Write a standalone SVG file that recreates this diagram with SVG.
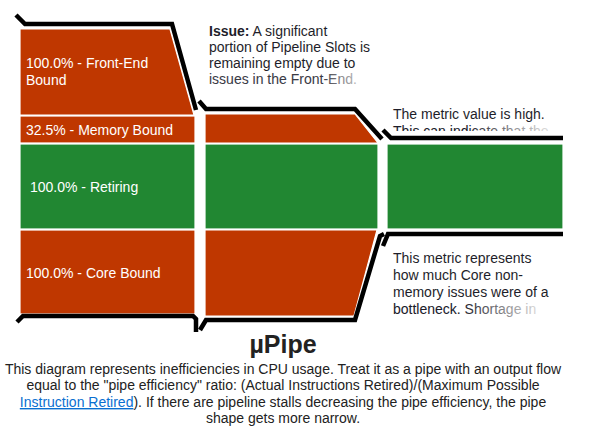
<svg xmlns="http://www.w3.org/2000/svg" width="596" height="442" viewBox="0 0 596 442">
<style>
.red{fill:#bf3700;stroke:#fff;stroke-width:1.2}
.grn{fill:#218732;stroke:#fff;stroke-width:1.2}
.lbl{font-family:"Liberation Sans",Arial,sans-serif;font-size:14px;fill:#fff}
.ann{font-family:"Liberation Sans",Arial,sans-serif;font-size:14px;fill:#1e1e2a}
.pipe{fill:none;stroke:#000;stroke-width:4.5;stroke-linejoin:miter}
.desc{font-family:"Liberation Sans",Arial,sans-serif;font-size:14px;fill:#222;text-anchor:middle}
</style>
<defs>
<linearGradient id="fade1" gradientUnits="userSpaceOnUse" x1="322" y1="0" x2="362" y2="0">
<stop offset="0" stop-color="#3a3a44"/><stop offset="1" stop-color="#cfcfcf"/>
</linearGradient>
<linearGradient id="fade2" gradientUnits="userSpaceOnUse" x1="465" y1="0" x2="545" y2="0">
<stop offset="0" stop-color="#1e1e2a"/><stop offset="1" stop-color="#d8d8d8"/>
</linearGradient>
<linearGradient id="fade3" gradientUnits="userSpaceOnUse" x1="462" y1="0" x2="537" y2="0">
<stop offset="0" stop-color="#1e1e2a"/><stop offset="1" stop-color="#d8d8d8"/>
</linearGradient>
<clipPath id="clipHigh"><rect x="380" y="100" width="200" height="31"/></clipPath>
</defs>

<g id="section1">
<g id="frontend"><path class="red" d="M20,29 L170,29 L194,115 L20,115 Z"/><text class="lbl" x="26" y="68">100.0% - Front-End</text><text class="lbl" x="26" y="85">Bound</text></g>
<g id="memory1"><rect class="red" x="20" y="116" width="175" height="27"/><text class="lbl" x="26" y="135">32.5% - Memory Bound</text></g>
<g id="retiring1"><rect class="grn" x="20" y="144" width="175" height="85"/><text class="lbl" x="30" y="192">100.0% - Retiring</text></g>
<g id="core1"><rect class="red" x="20" y="230" width="175" height="84"/><text class="lbl" x="26" y="278">100.0% - Core Bound</text></g>
</g>

<g id="section2">
<g id="memory2"><path class="red" d="M205,114 L355,114 L378,143 L205,143 Z"/></g>
<g id="retiring2"><rect class="grn" x="205" y="144" width="173" height="85"/></g>
<g id="core2"><path class="red" d="M205,230 L377,230 L354,316 L205,316 Z"/></g>
</g>

<g id="section3">
<g id="retiring3"><rect class="grn" x="387" y="144" width="176" height="85"/></g>
</g>

<g id="connectors">
<path class="pipe" d="M16,15 L25,24 L172,24 L196,110"/>
<path class="pipe" d="M199,101 L206,109 L355,109 L382,139"/>
<path class="pipe" d="M383,130 L391,138 L563,138"/>
<path class="pipe" d="M17,322 L23,316 L193,316 L196,319 L196,332"/>
<path class="pipe" d="M200,330 L206,320 L355,320 L380,236 L384,234"/>
<path class="pipe" d="M383,246 L388,234 L563,234"/>
</g>

<g id="annotation-frontend">
<text class="ann" x="209" y="36"><tspan font-weight="bold">Issue:</tspan> A significant</text>
<text class="ann" x="209" y="52">portion of Pipeline Slots is</text>
<text class="ann" x="209" y="68">remaining empty due to</text>
<text class="ann" x="209" y="84" style="fill:url(#fade1)">issues in the Front-End.</text>
</g>

<g id="annotation-retiring">
<text class="ann" x="393" y="119">The metric value is high.</text>
<text class="ann" x="393" y="136" clip-path="url(#clipHigh)" style="fill:url(#fade2)">This can indicate that the</text>
</g>

<g id="annotation-core">
<text class="ann" x="393" y="263">This metric represents</text>
<text class="ann" x="393" y="280">how much Core non-</text>
<text class="ann" x="393" y="297">memory issues were of a</text>
<text class="ann" x="393" y="314" style="fill:url(#fade3)">bottleneck. Shortage in</text>
</g>

<g id="caption">
<text x="283" y="353" font-family="Liberation Sans, Arial, sans-serif" font-size="25" font-weight="bold" fill="#222" text-anchor="middle">µPipe</text>
<text class="desc" x="283" y="374">This diagram represents inefficiencies in CPU usage. Treat it as a pipe with an output flow</text>
<text class="desc" x="283" y="390">equal to the "pipe efficiency" ratio: (Actual Instructions Retired)/(Maximum Possible</text>
<text class="desc" x="283" y="407"><tspan fill="#0a6fd1" text-decoration="underline">Instruction Retired</tspan>). If there are pipeline stalls decreasing the pipe efficiency, the pipe</text>
<text class="desc" x="283" y="423">shape gets more narrow.</text>
</g>
</svg>
